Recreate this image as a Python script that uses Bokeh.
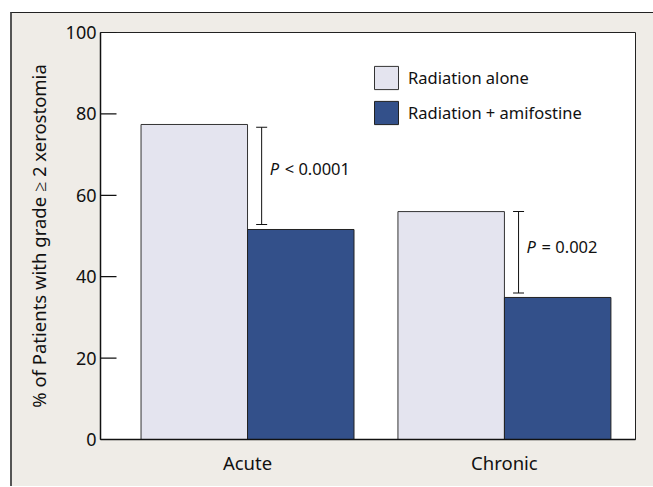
from bokeh.plotting import figure
from bokeh.models import ColumnDataSource, Legend, LegendItem, FixedTicker
from bokeh.core.properties import value
from bokeh.embed import file_html
from bokeh.resources import INLINE

categories = ["Acute", "Chronic"]
radiation_alone = [77.4, 56.0]
radiation_amifostine = [51.6, 34.9]
bracket_top = [76.7, 56.0]
bracket_bottom = [52.8, 36.0]
p_relation = ["< 0.0001", "= 0.002"]
p_label_y = [66.6, 47.4]
series_names = ["Radiation alone", "Radiation + amifostine"]
y_ticks = [0, 20, 40, 60, 80, 100]

FONT = "Noto Sans"
BAR_W = 0.4145
X0, X1 = -0.5723, 1.5102
pos = list(range(len(categories)))

p = figure(frame_width=535, frame_height=407, x_range=(X0, X1), y_range=(0, 100),
           output_backend="svg", toolbar_location=None,
           min_border_left=88, min_border_right=18, min_border_top=19, min_border_bottom=47,
           margin=(12, 0, 0, 10))
p.styles = {"border-top": "1px solid #222", "border-left": "2px solid #555",
            "background-color": "#EFECE7"}
p.border_fill_color = "#EFECE7"
p.background_fill_color = "white"
p.outline_line_color = "#222"
p.outline_line_width = 1
p.grid.visible = False

src = ColumnDataSource(dict(
    x=pos, alone=radiation_alone, ami=radiation_amifostine,
    x_alone=[x - BAR_W / 2 for x in pos], x_ami=[x + BAR_W / 2 for x in pos],
    btop=bracket_top, bbot=bracket_bottom,
    bx=[x + 0.055 for x in pos], prel=p_relation, py=p_label_y,
))

r1 = p.vbar(x="x_alone", top="alone", width=BAR_W, source=src,
            fill_color="#E4E4EF", line_color="#333", line_width=1)
r2 = p.vbar(x="x_ami", top="ami", width=BAR_W, source=src,
            fill_color="#33508A", line_color="#222", line_width=1)

# inward y ticks (half of a dash centred on the frame edge is clipped away)
tick_src = ColumnDataSource(dict(y=y_ticks, x=[X0] * len(y_ticks)))
p.scatter(x="x", y="y", source=tick_src, marker="dash", size=32,
          line_color="#111", line_width=1.2)

# significance brackets
p.segment(x0="bx", x1="bx", y0="bbot", y1="btop", source=src, line_color="#111", line_width=1)
p.rect(x="bx", y="btop", width=11, height=1, width_units="screen", height_units="screen",
       source=src, fill_color="#111", line_alpha=0)
p.rect(x="bx", y="bbot", width=11, height=1, width_units="screen", height_units="screen",
       source=src, fill_color="#111", line_alpha=0)
p.text(x="bx", y="py", text=value("P"), source=src, x_offset=8,
       text_font=value(FONT), text_font_style="italic", text_font_size="16.5px",
       text_baseline="middle", text_align="left", text_color="#111")
p.text(x="bx", y="py", text="prel", source=src, x_offset=23,
       text_font=value(FONT), text_font_size="16.5px",
       text_baseline="middle", text_align="left", text_color="#111")

legend = Legend(items=[LegendItem(label=series_names[0], renderers=[r1]),
                       LegendItem(label=series_names[1], renderers=[r2])],
                location=(271, 312), orientation="vertical",
                glyph_width=30, glyph_height=29, spacing=6, label_standoff=7,
                padding=0, margin=0, border_line_alpha=0, background_fill_alpha=0,
                label_text_font=FONT, label_text_font_size="16.5px", label_text_color="#111")
p.add_layout(legend, "center")

p.yaxis.ticker = FixedTicker(ticks=y_ticks)
p.yaxis.major_tick_in = 0
p.yaxis.major_tick_out = 0
p.yaxis.minor_tick_line_color = None
p.yaxis.major_tick_line_color = None
p.yaxis.axis_line_color = "#111"
p.yaxis.axis_line_width = 1.5
p.yaxis.major_label_standoff = 4
p.yaxis.major_label_text_font = FONT
p.yaxis.major_label_text_font_size = "18px"
p.yaxis.major_label_text_color = "#111"
p.yaxis.axis_label = "% of Patients with grade \u2265 2 xerostomia"
p.yaxis.axis_label_text_font = FONT
p.yaxis.axis_label_text_font_size = "18.5px"
p.yaxis.axis_label_text_font_style = "normal"
p.yaxis.axis_label_text_color = "#111"
p.yaxis.axis_label_standoff = 12

p.xaxis.ticker = FixedTicker(ticks=pos)
p.xaxis.major_label_overrides = {i: c for i, c in zip(pos, categories)}
p.xaxis.major_tick_line_color = None
p.xaxis.major_tick_in = 0
p.xaxis.major_tick_out = 0
p.xaxis.minor_tick_line_color = None
p.xaxis.axis_line_color = "#111"
p.xaxis.axis_line_width = 1.5
p.xaxis.major_label_standoff = 10
p.xaxis.major_label_text_font = FONT
p.xaxis.major_label_text_font_size = "18.5px"
p.xaxis.major_label_text_color = "#111"

open("out.html", "w").write(file_html(p, INLINE))
